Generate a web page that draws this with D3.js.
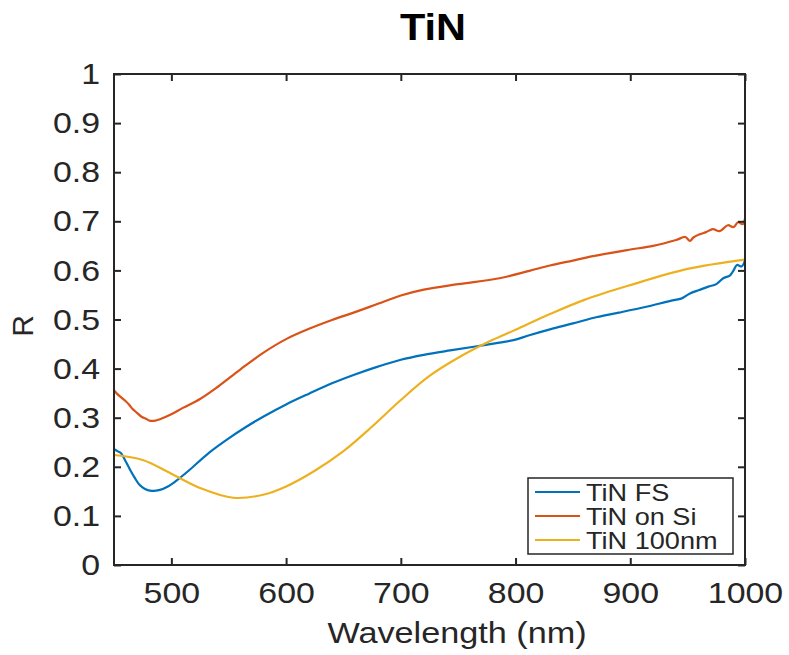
<!DOCTYPE html>
<html>
<head>
<meta charset="utf-8">
<script src="https://cdn.jsdelivr.net/npm/d3@7"></script>
<style>
  html, body { margin: 0; padding: 0; background: #fff; }
  svg { display: block; font-family: "Liberation Sans", Arial, sans-serif; }
</style>
</head>
<body>
<svg id="chart" width="789" height="655"></svg>
<script>
// ---- data ----
const titleText = "TiN";
const xLabel = "Wavelength (nm)";
const yLabel = "R";
const xTicks = [500, 600, 700, 800, 900, 1000];
const yTicks = [0, 0.1, 0.2, 0.3, 0.4, 0.5, 0.6, 0.7, 0.8, 0.9, 1];
const seriesNames = ["TiN FS", "TiN on Si", "TiN 100nm"];
const seriesColors = ["#0072BD", "#D95319", "#EDB120"];

const fsWavelength = [450, 453, 456, 460, 464, 468, 472, 477, 483, 490, 497, 505, 515, 533, 550, 565, 580, 600, 620, 640, 660, 680, 700, 720, 743, 765, 786, 800, 812, 830, 850, 871, 890, 914, 935, 945, 952, 960, 968, 975, 981, 987, 990, 993, 997, 1000];
const fsR =          [0.236, 0.232, 0.228, 0.212, 0.194, 0.178, 0.164, 0.155, 0.151, 0.153, 0.160, 0.173, 0.192, 0.229, 0.258, 0.281, 0.302, 0.327, 0.349, 0.370, 0.388, 0.404, 0.418, 0.428, 0.437, 0.445, 0.453, 0.459, 0.468, 0.480, 0.492, 0.505, 0.514, 0.526, 0.538, 0.543, 0.553, 0.560, 0.567, 0.572, 0.584, 0.590, 0.600, 0.611, 0.608, 0.620];

const siWavelength = [450, 453, 456, 460, 463, 466, 470, 474, 478, 481, 486, 490, 500, 510, 525, 540, 560, 580, 600, 620, 640, 660, 680, 700, 720, 750, 786, 812, 830, 850, 870, 899, 920, 940, 948, 952, 955, 960, 966, 972, 978, 985, 990, 994, 998, 1000];
const siR =          [0.356, 0.348, 0.342, 0.334, 0.327, 0.318, 0.310, 0.302, 0.298, 0.294, 0.294, 0.297, 0.307, 0.320, 0.338, 0.362, 0.398, 0.432, 0.460, 0.481, 0.499, 0.515, 0.532, 0.549, 0.561, 0.572, 0.584, 0.599, 0.610, 0.620, 0.630, 0.642, 0.650, 0.662, 0.668, 0.660, 0.667, 0.673, 0.678, 0.684, 0.680, 0.692, 0.688, 0.698, 0.694, 0.705];

const nmWavelength = [450, 475, 500, 525, 554, 580, 600, 625, 650, 675, 700, 725, 750, 777, 800, 830, 860, 900, 950, 1000];
const nmR =          [0.224, 0.214, 0.186, 0.157, 0.137, 0.143, 0.160, 0.192, 0.232, 0.282, 0.336, 0.385, 0.422, 0.455, 0.479, 0.511, 0.540, 0.570, 0.603, 0.622];

// ---- layout ----
const svg = d3.select("#chart");
const plotLeft = 114, plotRight = 745, plotTop = 74, plotBottom = 565;
const axisColor = "#262626";
const stretch = 1.13;

const x = d3.scaleLinear().domain([450, 1000]).range([plotLeft, plotRight]);
const y = d3.scaleLinear().domain([0, 1]).range([plotBottom, plotTop]);

const series = [
  { name: seriesNames[0], color: seriesColors[0], xs: fsWavelength, ys: fsR },
  { name: seriesNames[1], color: seriesColors[1], xs: siWavelength, ys: siR },
  { name: seriesNames[2], color: seriesColors[2], xs: nmWavelength, ys: nmR }
];

// lines (clipped to axes)
svg.append("clipPath").attr("id", "clip")
  .append("rect").attr("x", plotLeft).attr("y", plotTop).attr("width", plotRight - plotLeft).attr("height", plotBottom - plotTop);

const line = d3.line().x(d => x(d[0])).y(d => y(d[1])).curve(d3.curveCatmullRom.alpha(0.5));
const plotG = svg.append("g").attr("clip-path", "url(#clip)");
series.forEach(s => {
  plotG.append("path")
    .datum(s.xs.map((v, i) => [v, s.ys[i]]))
    .attr("fill", "none")
    .attr("stroke", s.color)
    .attr("stroke-width", 2.2)
    .attr("stroke-linejoin", "round")
    .attr("d", line);
});

// axes
function styleAxis(g) {
  g.select(".domain").remove();
  g.selectAll(".tick line").attr("stroke", axisColor).attr("stroke-width", 2);
  g.selectAll("text").attr("fill", axisColor)
    .attr("transform", `scale(${stretch},1)`)
    .style("font-size", "30px");
}
svg.append("g").attr("transform", `translate(0,${plotBottom})`)
  .call(d3.axisBottom(x).tickValues(xTicks).tickFormat(d3.format("d")).tickSizeInner(-7).tickSizeOuter(0).tickPadding(17))
  .call(styleAxis);
svg.append("g").attr("transform", `translate(0,${plotTop})`)
  .call(d3.axisTop(x).tickValues(xTicks).tickFormat("").tickSizeInner(-7).tickSizeOuter(0))
  .call(styleAxis);
svg.append("g").attr("transform", `translate(${plotLeft},0)`)
  .call(d3.axisLeft(y).tickValues(yTicks).tickFormat(d => d === 0 || d === 1 ? String(d) : d3.format(".1f")(d)).tickSizeInner(-7).tickSizeOuter(0).tickPadding(12.4))
  .call(styleAxis);
svg.append("g").attr("transform", `translate(${plotRight},0)`)
  .call(d3.axisRight(y).tickValues(yTicks).tickFormat("").tickSizeInner(-7).tickSizeOuter(0))
  .call(styleAxis);

// frame
svg.append("rect")
  .attr("x", plotLeft).attr("y", plotTop).attr("width", plotRight - plotLeft).attr("height", plotBottom - plotTop)
  .attr("fill", "none").attr("stroke", axisColor).attr("stroke-width", 2);

// title & labels
svg.append("text").attr("transform", "translate(433,40) scale(1.12,1)").attr("text-anchor", "middle")
  .attr("fill", "#000").style("font-size", "37px").style("font-weight", "bold")
  .text(titleText);
svg.append("text").attr("transform", "translate(457,643) scale(1.18,1)").attr("text-anchor", "middle")
  .attr("fill", axisColor).style("font-size", "29px")
  .text(xLabel);
svg.append("text").attr("transform", "translate(33,326) rotate(-90)").attr("text-anchor", "middle")
  .attr("fill", axisColor).style("font-size", "30px")
  .text(yLabel);

// legend
const lg = svg.append("g");
lg.append("rect").attr("x", 528).attr("y", 478).attr("width", 205).attr("height", 76)
  .attr("fill", "#fff").attr("stroke", axisColor).attr("stroke-width", 1.5);
series.forEach((s, i) => {
  const cy = 492 + i * 24;
  lg.append("line").attr("x1", 535).attr("x2", 580).attr("y1", cy).attr("y2", cy)
    .attr("stroke", s.color).attr("stroke-width", 2.2);
  lg.append("text").attr("transform", `translate(586,${cy}) scale(${stretch},1)`).attr("dy", "0.36em")
    .attr("fill", axisColor).style("font-size", "24px")
    .text(s.name);
});
</script>
</body>
</html>
